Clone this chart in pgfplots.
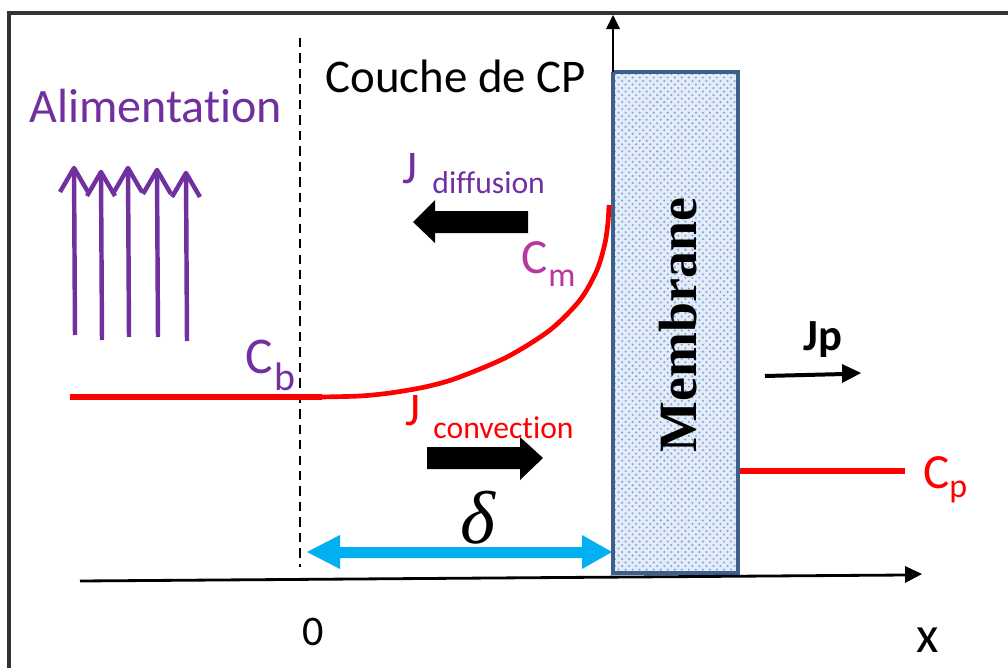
\documentclass[border=0pt]{standalone}
\usepackage{pgfplots}
\pgfplotsset{compat=1.18}
\usepackage{fontspec}
\setmainfont[Ligatures=NoCommon]{Carlito}
\newfontfamily\timesfont{Liberation Serif}
\usetikzlibrary{patterns}
\definecolor{purp}{HTML}{7030A0}
\definecolor{magen}{HTML}{B8369F}
\definecolor{memb}{HTML}{3C5F8C}
\definecolor{membfill}{HTML}{E4ECF7}
\definecolor{dotc}{HTML}{7FA6DD}
\definecolor{cyanarr}{HTML}{00B0F0}
\definecolor{frame}{HTML}{333333}
\newcommand{\fs}[1]{\fontsize{#1}{#1}\selectfont}
\begin{document}
\begin{tikzpicture}
\begin{axis}[width=15.12cm, height=10.02cm, scale only axis,
  xmin=0, xmax=1008, ymin=0, ymax=668, y dir=reverse,
  axis lines=none, clip=true]
% frame
\addplot[frame, line width=1.5pt] coordinates {(9,680) (9,13) (1020,13)};
% dashed line x=0
\addplot[black, line width=0.9pt, dash pattern=on 4pt off 2.6pt] coordinates {(300,38) (300,567)};
% membrane
\addplot[fill=membfill, draw=none] coordinates {(613,72) (738,72) (738,573) (613,573)};
\addplot[pattern=crosshatch dots, pattern color=dotc, draw=none] coordinates {(613,72) (738,72) (738,573) (613,573)};
\addplot[memb, line width=1.7pt] coordinates {(613,72) (738,72) (738,573) (613,573) (613,72)};
% vertical axis
\addplot[black, line width=1.1pt] coordinates {(613,72) (613,28)};
\addplot[fill=black, draw=none] coordinates {(613,15) (620,29) (606,29)};
% x axis
\addplot[black, line width=1.2pt] coordinates {(80,581) (906,575)};
\addplot[fill=black, draw=none] coordinates {(922,574) (905,566) (905,583)};
% red profile
\addplot[red, line width=2.3pt] coordinates {(70,397) (322,397)};
\addplot[red, line width=2pt, smooth] coordinates {(320,397) (360,396) (390,393) (425,387) (457,378) (507,357) (550,330) (580,300) (597,270) (605,243) (608,222) (609,205)};
\addplot[red, line width=2.4pt] coordinates {(740,471) (905,471)};
% cyan double arrow
\addplot[fill=cyanarr, draw=none] coordinates {(307,552) (340,535) (340,547) (582,547) (582,535) (612,552) (582,569) (582,558) (340,558) (340,569)};
% block arrows
\addplot[fill=black, draw=none] coordinates {(413,222) (435,200) (435,211) (528,211) (528,233) (435,233) (435,243)};
\addplot[fill=black, draw=none] coordinates {(427,447) (520,447) (520,437) (543,458) (520,480) (520,469) (427,469)};
% Jp arrow
\addplot[black, line width=1.7pt] coordinates {(765,376) (845,374)};
\addplot[fill=black, draw=none] coordinates {(861,373) (842,364) (842,383)};
% feed arrows
\addplot[purp, line width=1.9pt, line join=round] coordinates {(75,335) (74,168)};
\addplot[purp, line width=1.9pt, line join=round] coordinates {(60,192) (74,168) (88,192)};
\addplot[purp, line width=1.9pt, line join=round] coordinates {(102,340) (101,172)};
\addplot[purp, line width=1.9pt, line join=round] coordinates {(87,196) (101,172) (115,196)};
\addplot[purp, line width=1.9pt, line join=round] coordinates {(129,337) (128,168)};
\addplot[purp, line width=1.9pt, line join=round] coordinates {(114,192) (128,168) (142,192)};
\addplot[purp, line width=1.9pt, line join=round] coordinates {(158,337) (157,170)};
\addplot[purp, line width=1.9pt, line join=round] coordinates {(143,194) (157,170) (171,194)};
\addplot[purp, line width=1.9pt, line join=round] coordinates {(187,341) (186,173)};
\addplot[purp, line width=1.9pt, line join=round] coordinates {(172,197) (186,173) (200,197)};
% texts
\node[anchor=base west, inner sep=0pt, text=purp] at (axis cs:29,122) {\fs{20.5}Alimentation};
\node[anchor=base west, inner sep=0pt] at (axis cs:325,92) {\fs{20}Couche de CP};
\node[anchor=base west, inner sep=0pt, text=purp] at (axis cs:402,183) {\fs{20}J};
\node[anchor=base west, inner sep=0pt, text=purp] at (axis cs:432,193) {\fs{13.5}diffusion};
\node[anchor=base west, inner sep=0pt, text=magen] at (axis cs:521,273) {\fs{21}C};
\node[anchor=base west, inner sep=0pt, text=magen] at (axis cs:548,286) {\fs{14.5}m};
\node[anchor=base west, inner sep=0pt, text=purp] at (axis cs:245,373) {\fs{22}C};
\node[anchor=base west, inner sep=0pt, text=purp] at (axis cs:274,390) {\fs{17}b};
\node[anchor=base west, inner sep=0pt, text=red] at (axis cs:405,425) {\fs{20}J};
\node[anchor=base west, inner sep=0pt, text=red] at (axis cs:433,438) {\fs{13.5}convection};
\node[anchor=base west, inner sep=0pt] at (axis cs:803,350) {\fs{19}\bfseries Jp};
\node[anchor=base west, inner sep=0pt, text=red] at (axis cs:923,488) {\fs{21}C};
\node[anchor=base west, inner sep=0pt, text=red] at (axis cs:949,497) {\fs{14.5}p};
\node[inner sep=0pt] at (axis cs:478,518) {\timesfont\itshape\fs{32}δ};
\node[anchor=base west, inner sep=0pt] at (axis cs:302,645) {\fs{18}0};
\node[anchor=base west, inner sep=0pt] at (axis cs:916,652) {\fs{22}x};
\node[rotate=90, inner sep=0pt] at (axis cs:678,325) {\timesfont\bfseries\fs{23}Membrane};
\end{axis}
\pgfresetboundingbox
\path (current axis.south west) rectangle (current axis.north east);
\end{tikzpicture}
\end{document}
